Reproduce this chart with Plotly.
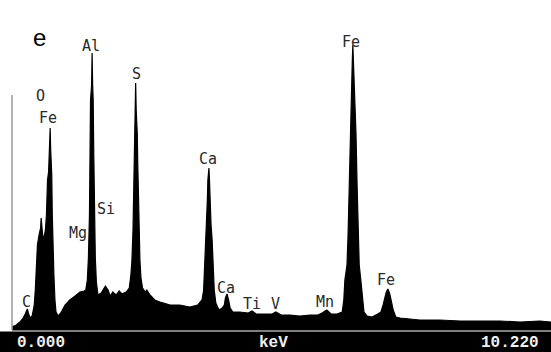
import plotly.graph_objects as go

# EDS spectrum outline (energy in keV, counts in arbitrary units)
energy_kev = [
    -0.02, 0.06, 0.13, 0.19, 0.23, 0.25, 0.27, 0.29, 0.32, 0.36, 0.40, 0.42, 0.44, 0.46,
    0.49, 0.52, 0.53, 0.55, 0.56, 0.58, 0.61, 0.63, 0.65, 0.67, 0.68, 0.70, 0.71, 0.73,
    0.74, 0.75, 0.77, 0.79, 0.81, 0.85, 0.90, 0.98, 1.07, 1.17, 1.26, 1.34, 1.37,
    1.40, 1.42, 1.44, 1.45, 1.46, 1.48, 1.49, 1.50, 1.51, 1.52, 1.53, 1.55, 1.57,
    1.60, 1.66, 1.69, 1.74, 1.79, 1.83, 1.88, 1.94, 2.00, 2.05, 2.13,
    2.19, 2.22, 2.24, 2.26, 2.27, 2.28, 2.29, 2.30, 2.31, 2.32, 2.34, 2.35, 2.36,
    2.37, 2.39, 2.41, 2.44, 2.49, 2.52, 2.58, 2.67, 2.77, 2.96, 3.14, 3.33, 3.48,
    3.56, 3.59, 3.61, 3.63, 3.65, 3.66, 3.67, 3.69, 3.70, 3.71, 3.73, 3.75, 3.77,
    3.79, 3.82, 3.88, 3.94, 3.98, 4.00, 4.03, 4.06, 4.09, 4.14, 4.27, 4.43, 4.50,
    4.58, 4.73, 4.88, 4.95, 5.05, 5.22, 5.40, 5.59, 5.74, 5.82, 5.91, 5.99, 6.10,
    6.20, 6.23, 6.25, 6.29, 6.31, 6.33, 6.35, 6.36, 6.38, 6.39, 6.40, 6.41, 6.43,
    6.44, 6.46, 6.48, 6.50, 6.52, 6.55, 6.58, 6.61, 6.67, 6.76, 6.87,
    6.93, 6.97, 7.01, 7.03, 7.06, 7.09, 7.12, 7.16, 7.21, 7.29, 7.66, 8.04, 8.42,
    8.79, 9.17, 9.55, 9.92, 10.13, 10.22,
]
counts = [
    3, 5, 8, 12, 16, 19, 21, 17, 12, 14, 25, 40, 65, 85,
    95, 102, 112, 100, 94, 92, 100, 115, 150, 158, 180, 202, 180, 155,
    115, 85, 55, 30, 18, 14, 17, 25, 30, 34, 38, 39, 40,
    50, 72, 115, 180, 230, 245, 277, 245, 230, 180, 115, 72, 48,
    35, 37, 40, 44, 40, 34, 38, 35, 39, 36, 38,
    42, 55, 70, 100, 137, 165, 197, 220, 247, 220, 197, 165, 137,
    100, 70, 52, 42, 38, 40, 35, 30, 28, 25, 25, 23, 25,
    30, 40, 65, 90, 105, 130, 150, 162, 150, 130, 105, 90, 65,
    40, 27, 20, 22, 25, 32, 36, 30, 22, 18, 18, 17, 19,
    16, 16, 16, 18, 15, 15, 14, 15, 15, 17, 20, 16, 16,
    18, 30, 50, 65, 95, 145, 195, 230, 252, 270, 285, 270, 252,
    230, 195, 145, 95, 65, 50, 30, 18, 14, 13, 16,
    18, 25, 33, 38, 41, 37, 30, 20, 13, 12, 10, 10, 9,
    9, 9, 8, 9, 8, 8,
]

# Peak labels
peak_names = ["C", "O", "Fe", "Mg", "Al", "Si", "S", "Ca", "Ca", "Ti", "V", "Mn", "Fe", "Fe"]
peak_label_kev = [0.26, 0.51, 0.66, 1.22, 1.47, 1.75, 2.32, 3.67, 4.01, 4.50, 4.95, 5.88, 6.37, 7.02]
peak_label_counts = [28, 234, 212, 97, 284, 121, 256, 171, 42, 26, 26, 28, 288, 50]

axis_start_label = "0.000"
axis_end_label = "10.220"
axis_unit = "keV"
panel_label = "e"

W, H = 551, 352
fig = go.Figure()
fig.add_trace(go.Scatter(
    x=energy_kev, y=counts, mode="lines",
    line=dict(color="black", width=1.2),
    fill="tozeroy", fillcolor="black",
    hoverinfo="skip", showlegend=False,
))

for name, ex, cy in zip(peak_names, peak_label_kev, peak_label_counts):
    fig.add_annotation(
        x=ex, y=cy, text=name, showarrow=False,
        font=dict(family="DejaVu Sans Mono", size=15, color="#2a2a2a"),
        xanchor="center", yanchor="middle",
    )

shapes = [
    # bottom black bar
    dict(type="rect", xref="paper", yref="paper", x0=0, x1=1,
         y0=0, y1=1 - 331.5 / H, fillcolor="black", line=dict(width=0), layer="above"),
    # baseline strip under the spectrum
    dict(type="rect", xref="paper", yref="paper", x0=12 / W, x1=1,
         y0=1 - 332 / H, y1=1 - 326 / H, fillcolor="black", line=dict(width=0), layer="above"),
    # grey baseline line
    dict(type="line", xref="paper", yref="paper", x0=12 / W, x1=1,
         y0=1 - 331 / H, y1=1 - 331 / H, line=dict(color="#a8a8a8", width=1.5), layer="above"),
    # left vertical axis line
    dict(type="line", xref="paper", yref="paper", x0=12 / W, x1=12 / W,
         y0=1 - 330 / H, y1=1 - 95 / H, line=dict(color="#9a9a9a", width=1.5), layer="above"),
]
fig.update_layout(shapes=shapes)

bottom_font = dict(family="Liberation Mono", size=16, color="#f0f0f0")
fig.add_annotation(xref="paper", yref="paper", x=15 / W, y=1 - 342.5 / H, text="<b>%s</b>" % axis_start_label,
                   showarrow=False, xanchor="left", yanchor="middle", font=bottom_font)
fig.add_annotation(xref="paper", yref="paper", x=273 / W, y=1 - 342.5 / H, text="<b>%s</b>" % axis_unit,
                   showarrow=False, xanchor="center", yanchor="middle", font=bottom_font)
fig.add_annotation(xref="paper", yref="paper", x=541 / W, y=1 - 342.5 / H, text="<b>%s</b>" % axis_end_label,
                   showarrow=False, xanchor="right", yanchor="middle", font=bottom_font)
fig.add_annotation(xref="paper", yref="paper", x=39 / W, y=1 - 38 / H, text=panel_label,
                   showarrow=False, xanchor="center", yanchor="middle",
                   font=dict(family="Liberation Sans", size=24, color="black"))

px_per_kev = 53.1
x0_px = 13
fig.update_layout(
    width=W, height=H,
    margin=dict(l=0, r=0, t=0, b=0),
    paper_bgcolor="white", plot_bgcolor="white",
    xaxis=dict(range=[-x0_px / px_per_kev, (W - x0_px) / px_per_kev],
               visible=False, showgrid=False, zeroline=False),
    yaxis=dict(range=[-(H - 330), 330], visible=False, showgrid=False, zeroline=False),
)

fig.write_html("out.html")
